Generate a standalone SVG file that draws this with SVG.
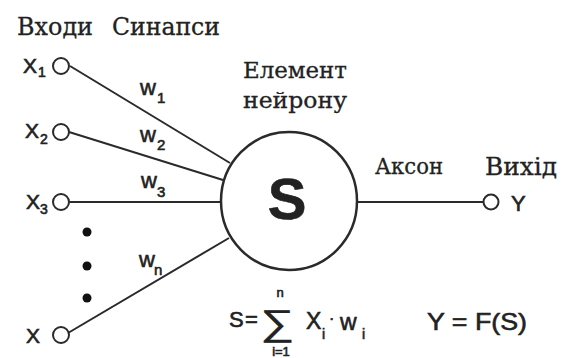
<svg xmlns="http://www.w3.org/2000/svg" width="562" height="358" viewBox="0 0 562 358">
<style>
.ser{font-family:"DejaVu Serif","Liberation Serif",serif;fill:#222;stroke:#222;stroke-width:0.3}
.san{font-family:"Liberation Sans",Arial,sans-serif;fill:#222;stroke:#222;stroke-width:0.6}
.thin{stroke-width:0.3}
.ln{stroke:#2a2a2a;stroke-width:2;fill:none}
.term{stroke:#2a2a2a;stroke-width:2;fill:#fff}
</style>
<rect width="562" height="358" fill="#fff"/>
<g id="headers">
<text class="ser" x="17" y="35" font-size="24" textLength="76" lengthAdjust="spacingAndGlyphs">Входи</text>
<text class="ser" x="112" y="35" font-size="24" textLength="108" lengthAdjust="spacingAndGlyphs">Синапси</text>
</g>
<g id="connectors">
<line class="ln" x1="70" y1="66" x2="230" y2="163"/>
<line class="ln" x1="69" y1="132" x2="223" y2="180"/>
<line class="ln" x1="69" y1="202" x2="221" y2="202"/>
<line class="ln" x1="68" y1="333" x2="229" y2="238"/>
<line class="ln" x1="357" y1="202" x2="484" y2="202"/>
</g>
<g id="x1">
<circle class="term" cx="61" cy="66" r="8"/>
<text class="san" x="23" y="73" font-size="21">X</text>
<text class="san" x="38" y="77" font-size="14">1</text>
</g>
<g id="x2">
<circle class="term" cx="61" cy="132" r="8"/>
<text class="san" x="25" y="138" font-size="21">X</text>
<text class="san" x="40" y="144" font-size="14">2</text>
</g>
<g id="x3">
<circle class="term" cx="61" cy="202" r="8"/>
<text class="san" x="26" y="209" font-size="21">X</text>
<text class="san" x="40" y="214" font-size="14">3</text>
</g>
<g id="dots" fill="#111">
<circle cx="87" cy="232" r="4.5"/>
<circle cx="87" cy="266" r="4.5"/>
<circle cx="87" cy="298" r="4.5"/>
</g>
<g id="xn">
<circle class="term" cx="61" cy="335" r="8"/>
<text class="san" x="26" y="343" font-size="21">X</text>
</g>
<g id="weights">
<text class="san" x="140" y="95" font-size="22">w</text>
<text class="san" x="157" y="103" font-size="15">1</text>
<text class="san" x="140" y="142" font-size="22">w</text>
<text class="san" x="157" y="150" font-size="15">2</text>
<text class="san" x="141" y="188" font-size="22">w</text>
<text class="san" x="157" y="197" font-size="15">3</text>
<text class="san" x="139" y="267" font-size="22">w</text>
<text class="san" x="154" y="275" font-size="15">n</text>
</g>
<g id="neuron">
<ellipse cx="289" cy="201" rx="68" ry="69" fill="#fff" stroke="#2a2a2a" stroke-width="2.5"/>
<text class="san" x="287" y="219" font-size="58" font-weight="bold" text-anchor="middle" fill="#111" stroke="none">S</text>
<text class="ser" x="243" y="78" font-size="22" textLength="104" lengthAdjust="spacingAndGlyphs">Елемент</text>
<text class="ser" x="243" y="108" font-size="22" textLength="104" lengthAdjust="spacingAndGlyphs">нейрону</text>
</g>
<g id="axon">
<text class="ser" x="375" y="174" font-size="23" textLength="68" lengthAdjust="spacingAndGlyphs">Аксон</text>
</g>
<g id="output">
<circle class="term" cx="491" cy="202" r="7.5"/>
<text class="ser" x="485" y="175" font-size="24" textLength="72" lengthAdjust="spacingAndGlyphs">Вихід</text>
<text class="san" x="511" y="211" font-size="22">Y</text>
</g>
<g id="formula-s">
<text class="san" x="229" y="327" font-size="22">S</text>
<text class="san" x="245" y="327" font-size="22">=</text>
<text class="san thin" x="260" y="335" font-size="36" textLength="34" lengthAdjust="spacingAndGlyphs">∑</text>
<text class="san" x="280" y="297" font-size="13" text-anchor="middle">n</text>
<text class="san" x="281" y="356" font-size="13" text-anchor="middle">i=1</text>
<text class="san" x="306" y="329" font-size="23">X</text>
<text class="san" x="322" y="339" font-size="14">i</text>
<text class="san" x="329" y="324" font-size="16">·</text>
<text class="san" x="340" y="330" font-size="23">w</text>
<text class="san" x="362" y="339" font-size="14">i</text>
</g>
<g id="formula-y">
<text class="san" x="427" y="330" font-size="24" textLength="100" lengthAdjust="spacingAndGlyphs">Y = F(S)</text>
</g>
</svg>
